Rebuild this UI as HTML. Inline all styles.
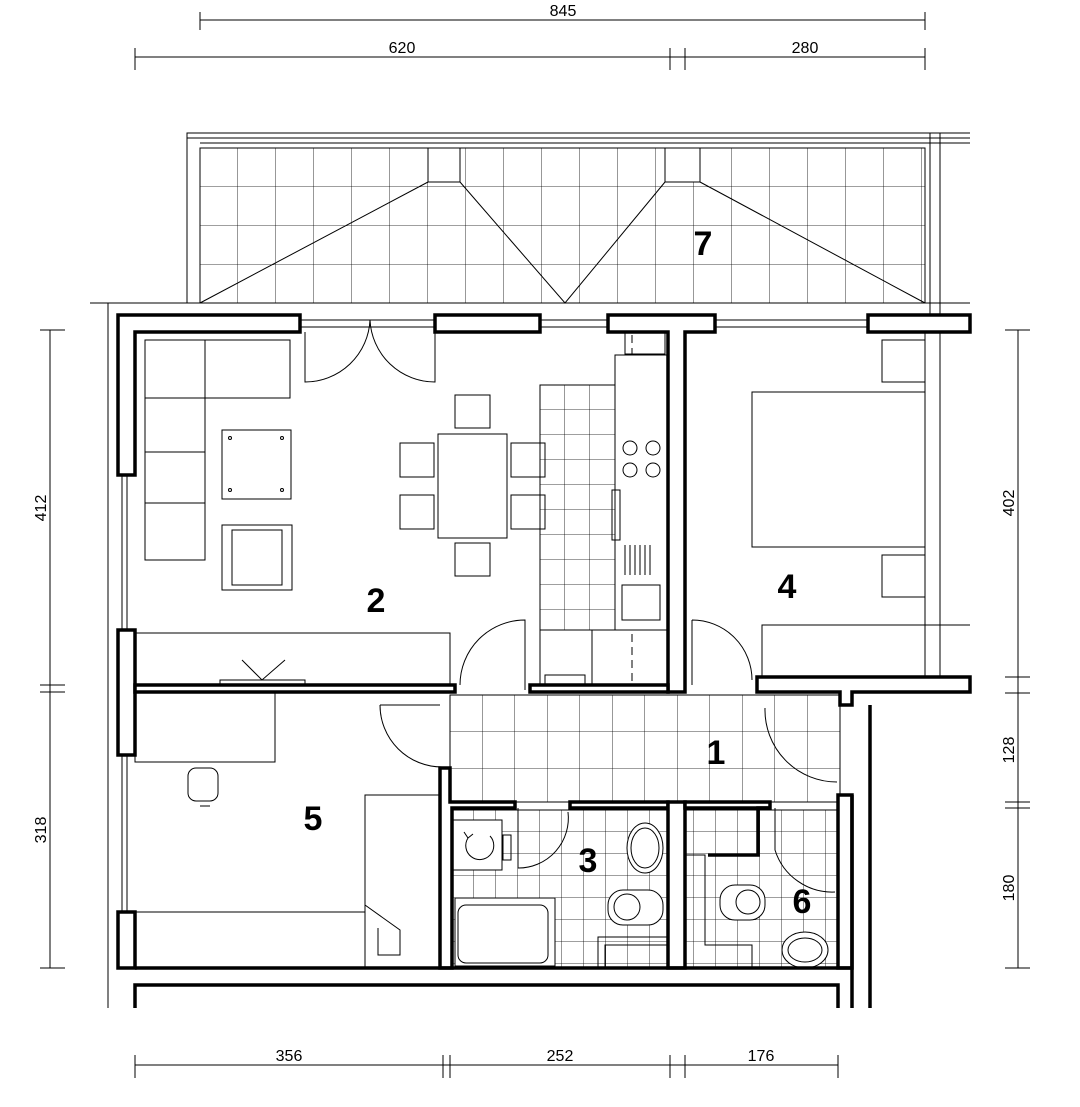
<!DOCTYPE html>
<html><head><meta charset="utf-8"><style>body{margin:0;background:#fff}svg{display:block}</style></head><body>
<svg width="1080" height="1107" viewBox="0 0 1080 1107" xmlns="http://www.w3.org/2000/svg" font-family="Liberation Sans, sans-serif">
<defs>
<pattern id="g38" x="200" y="148" width="38" height="39" patternUnits="userSpaceOnUse"><path d="M38 0V39M0 39H38" stroke="#000" stroke-width="0.8" fill="none"/></pattern>
<pattern id="gk" x="540" y="385" width="25" height="25" patternUnits="userSpaceOnUse"><path d="M25 0V25M0 25H25" stroke="#000" stroke-width="0.8" fill="none"/></pattern>
<pattern id="gc" x="450" y="695" width="32.5" height="37" patternUnits="userSpaceOnUse"><path d="M32.5 0V37M0 37H32.5" stroke="#000" stroke-width="0.8" fill="none"/></pattern>
<pattern id="gb" x="452" y="810" width="22" height="22" patternUnits="userSpaceOnUse"><path d="M22 0V22M0 22H22" stroke="#000" stroke-width="0.8" fill="none"/></pattern>
</defs>
<g stroke="#000" fill="none" stroke-width="1">
<line x1="200" y1="20" x2="925" y2="20"/><line x1="200" y1="12" x2="200" y2="30"/><line x1="925" y1="12" x2="925" y2="30"/>
<line x1="135" y1="57" x2="925" y2="57"/><line x1="135" y1="48" x2="135" y2="70"/><line x1="670" y1="48" x2="670" y2="70"/><line x1="685" y1="48" x2="685" y2="70"/><line x1="925" y1="48" x2="925" y2="70"/>
<line x1="135" y1="1065" x2="838" y2="1065"/><line x1="135" y1="1055" x2="135" y2="1078"/><line x1="443" y1="1055" x2="443" y2="1078"/><line x1="450" y1="1055" x2="450" y2="1078"/><line x1="670" y1="1055" x2="670" y2="1078"/><line x1="685" y1="1055" x2="685" y2="1078"/><line x1="838" y1="1055" x2="838" y2="1078"/>
<line x1="50" y1="330" x2="50" y2="968"/><line x1="40" y1="330" x2="65" y2="330"/><line x1="40" y1="685" x2="65" y2="685"/><line x1="40" y1="692" x2="65" y2="692"/><line x1="40" y1="968" x2="65" y2="968"/>
<line x1="1018" y1="330" x2="1018" y2="968"/><line x1="1005" y1="330" x2="1030" y2="330"/><line x1="1005" y1="677" x2="1030" y2="677"/><line x1="1005" y1="693" x2="1030" y2="693"/><line x1="1005" y1="802" x2="1030" y2="802"/><line x1="1005" y1="808" x2="1030" y2="808"/><line x1="1005" y1="968" x2="1030" y2="968"/>
<rect x="200" y="148" width="725" height="155" fill="url(#g38)"/>
<path d="M187 303V133H970M200 303V148H925V303M200 143H970M187 138H970"/>
<path d="M930 133V315M940 133V315"/>
<rect x="428" y="148" width="32" height="34" fill="#fff"/><rect x="665" y="148" width="35" height="34" fill="#fff"/>
<path d="M200 303L428 182M460 182L565 303L665 182M700 182L925 303"/>
<line x1="90" y1="303" x2="970" y2="303"/><line x1="108" y1="303" x2="108" y2="1008"/>
<path d="M122 475V630M127 475V630M122 755V912M127 755V912"/>
<path d="M300 320H435M300 327H435M540 320H608M540 327H608M715 320H868M715 327H868"/>
<path d="M925 332V677M940 332V677"/>
<rect x="540" y="385" width="75" height="245" fill="url(#gk)"/>
<rect x="450" y="695" width="390" height="107" fill="url(#gc)"/>
<rect x="452" y="810" width="216" height="158" fill="url(#gb)"/>
<rect x="685" y="810" width="153" height="158" fill="url(#gb)"/>
<path d="M450 695H840V802H450Z" stroke-dasharray="6 4"/>
<path d="M632 335V685" stroke-dasharray="8 5"/>
<rect x="615" y="355" width="53" height="275" fill="#fff"/>
<circle cx="630" cy="448" r="7"/><circle cx="653" cy="448" r="7"/><circle cx="630" cy="470" r="7"/><circle cx="653" cy="470" r="7"/>
<rect x="622" y="585" width="38" height="35"/><rect x="612" y="490" width="8" height="50"/>
<path d="M625 545V575M630 545V575M635 545V575M640 545V575M645 545V575M650 545V575"/>
<rect x="540" y="630" width="52" height="55" fill="#fff"/><rect x="545" y="675" width="40" height="10"/>
<rect x="625" y="332" width="40" height="22"/>
<rect x="145" y="340" width="145" height="58" fill="#fff"/><line x1="205" y1="340" x2="205" y2="398"/>
<rect x="145" y="398" width="60" height="162" fill="#fff"/><line x1="145" y1="452" x2="205" y2="452"/><line x1="145" y1="503" x2="205" y2="503"/>
<rect x="222" y="430" width="69" height="69"/>
<circle cx="230" cy="438" r="1.5"/><circle cx="282" cy="438" r="1.5"/><circle cx="230" cy="490" r="1.5"/><circle cx="282" cy="490" r="1.5"/>
<rect x="222" y="525" width="70" height="65"/><rect x="232" y="530" width="50" height="55"/>
<rect x="438" y="434" width="69" height="104"/>
<rect x="455" y="395" width="35" height="33"/><rect x="455" y="543" width="35" height="33"/>
<rect x="400" y="443" width="34" height="34"/><rect x="400" y="495" width="34" height="34"/><rect x="511" y="443" width="34" height="34"/><rect x="511" y="495" width="34" height="34"/>
<path d="M135 633H450V685M220 685V680H305V685M242 660L262 680L285 660"/>
<path d="M305 332V382A65 65 0 0 0 370 320M435 332V382A65 65 0 0 1 370 320"/>
<path d="M460 685A65 65 0 0 1 525 620V690"/>
<path d="M692 620V685M692 620A60 60 0 0 1 752 680"/>
<path d="M380 705H440M380 705A62 62 0 0 0 442 767"/>
<path d="M765 708A72 72 0 0 0 837 782"/>
<path d="M518 808V868A50 50 0 0 0 568 812"/>
<path d="M775 808V850A60 60 0 0 0 835 892"/>
<rect x="752" y="392" width="173" height="155"/><rect x="882" y="340" width="43" height="42"/><rect x="882" y="555" width="43" height="42"/>
<path d="M762 677V625H970"/>
<rect x="135" y="692" width="140" height="70"/>
<rect x="188" y="768" width="30" height="33" rx="8"/><line x1="200" y1="806" x2="210" y2="806"/>
<path d="M135 912H365M365 968V795H440M365 905L400 930V955H378V928"/>
<rect x="452" y="820" width="50" height="50" fill="#fff"/><path d="M490 836A14 14 0 1 1 468 838M464 832L468 838L473 834"/><rect x="503" y="835" width="8" height="25"/>
<ellipse cx="645" cy="848" rx="18" ry="25" fill="#fff"/><ellipse cx="645" cy="848" rx="14" ry="20"/>
<rect x="608" y="890" width="55" height="35" rx="15" fill="#fff"/><circle cx="627" cy="907" r="13"/>
<rect x="455" y="898" width="100" height="68" fill="#fff"/><rect x="458" y="905" width="90" height="58" rx="8"/>
<path d="M598 968V937H668M605 968V945H668"/>
<rect x="720" y="885" width="45" height="35" rx="15" fill="#fff"/><circle cx="748" cy="902" r="12"/>
<ellipse cx="805" cy="950" rx="23" ry="18" fill="#fff"/><ellipse cx="805" cy="950" rx="17" ry="12"/>
<path d="M685 855H705V945H752V968"/>
</g>
<g stroke="#000" stroke-width="3.5" fill="#fff">
<path d="M118 315H300V332H135V475H118Z"/>
<path d="M118 630H135V755H118Z"/>
<path d="M118 912H135V968H118Z"/>
<path d="M435 315H540V332H435Z"/>
<path d="M608 315H715V332H685V692H668V332H608Z"/>
<path d="M868 315H970V332H868Z"/>
<path d="M135 685H455V692H135Z"/>
<path d="M530 685H668V692H530Z"/>
<path d="M440 768H450V802H515V808H452V968H440Z"/>
<path d="M570 802H668V808H570Z"/>
<path d="M668 802H685V968H668Z"/>
<path d="M685 802H770V808H685Z"/>
<path d="M757 677H970V692H852V705H840V692H757Z"/>
<path d="M838 795H852V968H838Z"/>
<path d="M135 1008V985H838V1008" fill="none"/>
</g>
<path d="M708 855H758V808H770" stroke="#000" stroke-width="3.5" fill="none"/>
<path d="M135 968H852M852 795V1008M870 705V1008" stroke="#000" stroke-width="3.5" fill="none"/>
<g font-weight="bold" font-size="34" text-anchor="middle">
<text x="376" y="612">2</text><text x="787" y="598">4</text><text x="313" y="830">5</text><text x="716" y="764">1</text><text x="588" y="872">3</text><text x="802" y="913">6</text><text x="703" y="255">7</text>
</g>
<g font-size="16" text-anchor="middle">
<text x="563" y="16">845</text><text x="402" y="53">620</text><text x="805" y="53">280</text>
<text x="289" y="1061">356</text><text x="560" y="1061">252</text><text x="761" y="1061">176</text>
<text transform="translate(46,508) rotate(-90)">412</text><text transform="translate(46,830) rotate(-90)">318</text>
<text transform="translate(1014,503) rotate(-90)">402</text><text transform="translate(1014,750) rotate(-90)">128</text><text transform="translate(1014,888) rotate(-90)">180</text>
</g>
</svg>
</body></html>
